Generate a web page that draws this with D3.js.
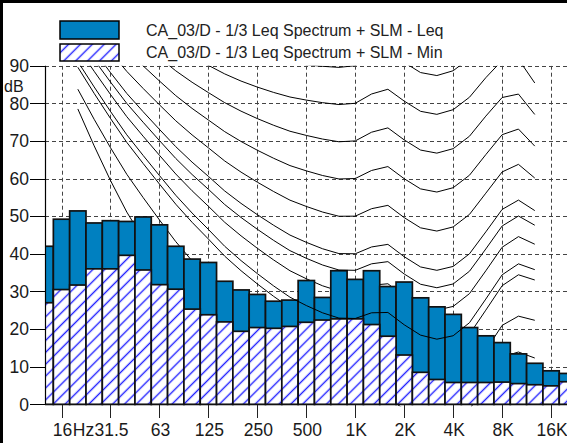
<!DOCTYPE html>
<html><head><meta charset="utf-8">
<script src="https://cdn.jsdelivr.net/npm/d3@7"></script>
<style>body{margin:0;background:#fff}svg{display:block}text{font-family:Arial,"Liberation Sans",sans-serif}</style>
</head><body>
<svg id="c" width="567" height="443"></svg>
<script>
// 1/3-octave bands
const bands = ["12.5","16","20","25","31.5","40","50","63","80","100","125","160","200","250","315","400","500","630","800","1K","1.25K","1.6K","2K","2.5K","3.15K","4K","5K","6.3K","8K","10K","12.5K","16K","20K"];
const leqLevels = [42.0,49.2,51.4,48.2,48.8,48.6,49.8,47.7,42.0,38.6,37.7,32.7,30.4,29.2,27.4,27.7,32.9,28.4,35.5,33.2,35.5,31.3,32.5,28.3,25.9,23.9,20.4,18.2,16.4,13.4,10.9,8.9,8.2];
const minLevels = [27.0,30.5,31.7,36.0,36.0,39.6,35.7,31.8,30.6,25.3,23.8,21.9,19.4,20.4,20.2,20.7,21.8,22.4,22.7,22.7,21.2,18.1,13.1,8.5,6.6,5.8,5.8,5.8,5.9,5.5,5.2,4.9,6.0];

// equal-loudness contour bands (20 Hz .. 12.5 kHz)
const contourBands = ["20","25","31.5","40","50","63","80","100","125","160","200","250","315","400","500","630","800","1K","1.25K","1.6K","2K","2.5K","3.15K","4K","5K","6.3K","8K","10K","12.5K"];
const hearingThreshold = [78.5,68.7,59.5,51.1,44.0,37.5,31.5,26.5,22.1,17.9,14.4,11.4,8.6,6.2,4.4,3.0,2.2,2.4,3.5,1.7,-1.3,-4.2,-6.0,-5.4,-1.5,6.0,12.6,13.9,12.3];
const phon10 = [83.75,75.76,68.21,61.14,54.96,49.01,43.24,38.13,33.48,28.77,24.84,21.33,18.05,15.14,12.98,11.18,9.99,10.00,11.26,10.43,7.27,4.45,3.04,3.80,7.46,14.35,20.98,23.43,22.33];
const phon20 = [89.58,82.65,75.98,69.62,64.02,58.55,53.19,48.38,43.94,39.37,35.51,31.99,28.69,25.67,23.43,21.48,20.10,20.01,21.46,21.40,18.15,15.38,14.26,15.14,18.63,25.02,31.52,34.43,33.04];
const phon30 = [94.85,88.52,82.36,76.45,71.26,66.20,61.22,56.76,52.64,48.38,44.78,41.47,38.36,35.50,33.37,31.49,30.11,30.01,31.65,32.04,28.76,26.03,25.04,26.02,29.42,35.48,41.74,44.57,42.55];
const phon40 = [99.85,93.94,88.17,82.63,77.78,73.08,68.48,64.37,60.59,56.70,53.41,50.40,47.58,44.98,43.05,41.34,40.06,40.01,41.82,42.51,39.23,36.51,35.61,36.65,40.01,45.83,51.80,54.28,51.49];
const phon50 = [104.72,99.14,93.69,88.49,83.96,79.61,75.36,71.61,68.17,64.68,61.72,59.04,56.55,54.26,52.59,51.10,49.98,50.01,51.99,52.88,49.62,46.91,46.05,47.15,50.48,56.11,61.76,63.78,60.14];
const phon60 = [109.51,104.23,99.08,94.18,89.96,85.94,82.05,78.65,75.56,72.47,69.86,67.53,65.39,63.45,62.05,60.81,59.89,60.01,62.15,63.19,59.96,57.26,56.42,57.57,60.89,66.36,71.66,73.16,68.63];
const phon70 = [114.26,109.25,104.38,99.78,95.87,92.18,88.64,85.60,82.85,80.17,77.92,75.94,74.16,72.58,71.47,70.50,69.78,70.01,72.32,73.47,70.28,67.58,66.76,67.95,71.26,76.59,81.54,82.46,77.04];
const phon80 = [118.99,114.23,109.65,105.34,101.72,98.36,95.17,92.48,90.09,87.82,85.92,84.31,82.89,81.68,80.86,80.17,79.67,80.01,82.48,83.74,80.59,77.88,77.07,78.31,81.62,86.81,91.41,91.74,85.41];
const phon90 = [123.71,119.20,114.88,110.87,107.55,104.51,101.67,99.33,97.29,95.43,93.89,92.65,91.60,90.76,90.24,89.84,89.55,90.01,92.65,94.00,90.88,88.18,87.38,88.66,91.96,97.02,101.26,100.99,93.75];
// loudness contours of the two spectra (drawn over the bars)
const loudnessLeq = [97.67,91.60,85.66,79.97,74.97,70.11,65.35,61.08,57.15,53.10,49.66,46.52,43.56,40.84,38.81,37.02,35.69,35.61,37.34,37.92,34.64,31.91,30.98,31.99,35.37,41.29,47.39,50.05,47.60];
const loudnessMin = [91.09,84.36,77.85,71.63,66.16,60.81,55.56,50.85,46.49,42.00,38.20,34.73,31.46,28.47,26.25,24.31,22.91,22.81,24.32,24.41,21.14,18.39,17.31,18.22,21.69,27.97,34.41,37.33,35.79];

const yTicks = [0,10,20,30,40,50,60,70,80,90];
const xTickBands = ["16","31.5","63","125","250","500","1K","2K","4K","8K","16K"];
const legendLabels = ["CA_03/D - 1/3 Leq Spectrum + SLM - Leq","CA_03/D - 1/3 Leq Spectrum + SLM - Min"];
const yUnit = "dB";
const firstTickSuffix = "Hz";

const blue = "#0080c0", hatchBlue = "#2020ff";
const svg = d3.select("#c");
const P = {left:45, right:567, top:65.7, bottom:404.3};

const x = d3.scaleBand().domain(bands).range([37.04, 575.56]).padding(0);
const cx = b => x(b) + x.bandwidth()/2;
const y = d3.scaleLinear().domain([0,90]).range([P.bottom, P.top]);

const defs = svg.append("defs");
const pat = defs.append("pattern").attr("id","hatch").attr("patternUnits","userSpaceOnUse")
  .attr("width",8.4).attr("height",8.4).attr("patternTransform","rotate(45)");
pat.append("rect").attr("width",8.4).attr("height",8.4).attr("fill","#fff");
pat.append("line").attr("x1",4.2).attr("x2",4.2).attr("y1",-1).attr("y2",9.4)
  .attr("stroke",hatchBlue).attr("stroke-width",1.4);
defs.append("clipPath").attr("id","clip").append("rect")
  .attr("x",P.left).attr("y",P.top).attr("width",P.right-P.left).attr("height",P.bottom-P.top+2);

svg.append("rect").attr("width",567).attr("height",443).attr("fill","#fff");
// frame
svg.append("rect").attr("x",0).attr("y",0).attr("width",3).attr("height",443).attr("fill","#000");
svg.append("rect").attr("x",0).attr("y",0).attr("width",567).attr("height",3).attr("fill","#000");

// legend
const leg = svg.append("g");
leg.append("rect").attr("x",60).attr("y",21).attr("width",59).attr("height",18)
  .attr("fill",blue).attr("stroke","#000").attr("stroke-width",1.5);
leg.append("rect").attr("x",60).attr("y",44).attr("width",59).attr("height",17)
  .attr("fill","url(#hatch)").attr("stroke","#000").attr("stroke-width",1.5);
leg.selectAll("text.l").data(legendLabels).join("text").attr("class","l")
  .attr("x",146).attr("y",(d,i)=>35.5+i*22.5).attr("font-size",16).attr("fill","#222").text(d=>d);

const plot = svg.append("g").attr("clip-path","url(#clip)");
// grid
const grid = plot.append("g").attr("stroke","#444").attr("stroke-width",1).attr("stroke-dasharray","4,3");
grid.selectAll("line.h").data(yTicks.filter(v=>v>0)).join("line").attr("class","h")
  .attr("x1",P.left).attr("x2",P.right).attr("y1",d=>Math.round(y(d))+0.5).attr("y2",d=>Math.round(y(d))+0.5);
grid.selectAll("line.v").data(xTickBands).join("line").attr("class","v")
  .attr("x1",d=>Math.round(cx(d))+0.5).attr("x2",d=>Math.round(cx(d))+0.5).attr("y1",P.top).attr("y2",P.bottom);

const line = d3.line().x((d,i)=>cx(contourBands[i])).y(d=>y(d));
const isoCurves = [hearingThreshold,phon10,phon20,phon30,phon40,phon50,phon60,phon70,phon80,phon90];
plot.append("g").selectAll("path").data(isoCurves).join("path")
  .attr("d",line).attr("fill","none").attr("stroke","#000").attr("stroke-width",1);

// bars
plot.append("g").selectAll("rect").data(bands).join("rect")
  .attr("x",d=>x(d)).attr("width",x.bandwidth())
  .attr("y",(d,i)=>y(leqLevels[i])).attr("height",(d,i)=>y(0)-y(leqLevels[i]))
  .attr("fill",blue).attr("stroke","#111").attr("stroke-width",1.7);
plot.append("g").selectAll("rect").data(bands).join("rect")
  .attr("x",d=>x(d)).attr("width",x.bandwidth())
  .attr("y",(d,i)=>y(minLevels[i])).attr("height",(d,i)=>y(0)-y(minLevels[i]))
  .attr("fill","url(#hatch)").attr("stroke","#111").attr("stroke-width",1.7);

plot.append("g").selectAll("path").data([loudnessLeq,loudnessMin]).join("path")
  .attr("d",line).attr("fill","none").attr("stroke","#000").attr("stroke-width",1);

// y axis
const ax = svg.append("g");
ax.append("line").attr("x1",45.5).attr("x2",45.5).attr("y1",P.top).attr("y2",P.bottom).attr("stroke","#000").attr("stroke-width",1.2);
ax.selectAll("line.t").data(yTicks).join("line").attr("class","t")
  .attr("x1",30).attr("x2",45).attr("y1",d=>Math.round(y(d))+0.5).attr("y2",d=>Math.round(y(d))+0.5)
  .attr("stroke","#000").attr("stroke-width",1);
ax.selectAll("text.t").data(yTicks).join("text").attr("class","t")
  .attr("x",29).attr("y",d=>y(d)).attr("dy","0.36em").attr("text-anchor","end")
  .attr("font-size",17.5).attr("fill","#1a1a1a").text(d=>d);
ax.append("text").attr("x",4).attr("y",92).attr("font-size",16).attr("fill","#1a1a1a").text(yUnit);

// x axis ticks
const xa = svg.append("g");
xa.selectAll("line").data(xTickBands).join("line")
  .attr("x1",d=>Math.round(cx(d))+0.5).attr("x2",d=>Math.round(cx(d))+0.5).attr("y1",405).attr("y2",418)
  .attr("stroke","#222").attr("stroke-width",1);
const xl = xa.selectAll("text").data(xTickBands).join("text")
  .attr("x",d=>cx(d)+1).attr("y",436).attr("text-anchor","middle")
  .attr("font-size",17.5).attr("fill","#1a1a1a").text(d=>d);
const first = xl.filter((d,i)=>i===0);
const w16 = first.node().getComputedTextLength();
xa.append("text").attr("x",cx(xTickBands[0])+1+w16/2+0.5).attr("y",436).attr("font-size",17.5)
  .attr("fill","#1a1a1a").text(firstTickSuffix);
</script></body></html>
